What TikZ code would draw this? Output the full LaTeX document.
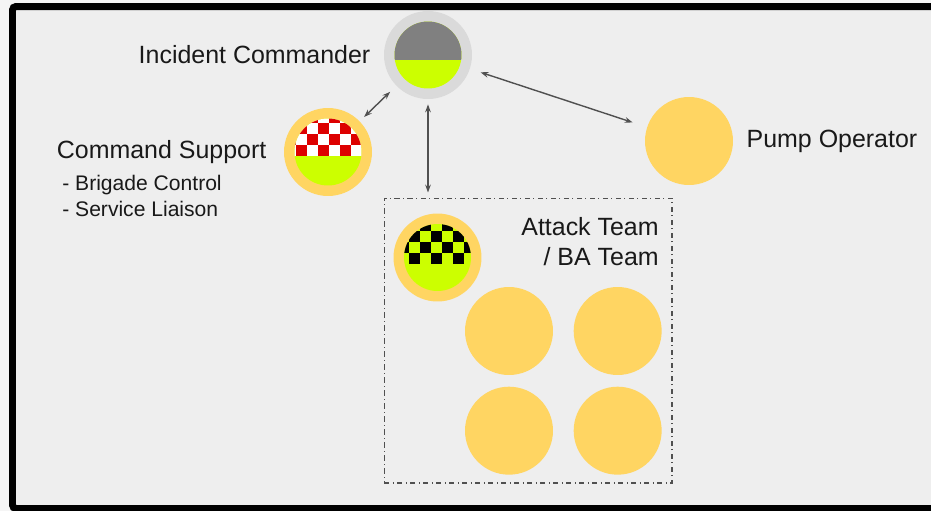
\documentclass[tikz,border=0pt]{standalone}
\usepackage{fontspec}
\setmainfont{Liberation Sans}
\usepackage{tikz}
\usetikzlibrary{positioning,arrows.meta}
\definecolor{bggray}{HTML}{EEEEEE}
\definecolor{ringgray}{HTML}{DADADA}
\definecolor{topgray}{HTML}{808080}
\definecolor{amber}{HTML}{FFD562}
\definecolor{lime}{HTML}{CCFF00}
\definecolor{chkred}{HTML}{DD0000}
\definecolor{linegray}{HTML}{505050}

\begin{document}
\begin{tikzpicture}[x=0.02cm,y=-0.02cm,
  role/.style={circle,fill=amber,minimum size=1.76cm,inner sep=0},
  lbl/.style={inner sep=0,text=black!90,font=\fontsize{14.2}{17}\selectfont},
  sublbl/.style={inner sep=0,align=left,text=black!90,font=\fontsize{12}{14.8}\selectfont},
  link/.style={{Stealth[length=4.5pt,width=3.2pt]}-{Stealth[length=4.5pt,width=3.2pt]},draw=linegray,line width=0.8pt}]
  \fill[black!4] (0,0) rectangle (931,511);
  \useasboundingbox (0,0) rectangle (931,511);
  \draw[fill=bggray,line width=0.14cm,rounded corners=2pt] (12.5,6.5) rectangle (960,508.5);

  \node[role,fill=ringgray] (ic) at (428,55) {};
  \node[role] (cs) at (328,152) {};
  \node[role] (po) at (689,141) {};
  \node[draw=linegray,dash dot,line width=0.6pt,minimum width=5.76cm,minimum height=5.7cm] (team) at (528,340.5) {};
  \node[role] (at) at (437.5,257.5) {};
  \node[role] (t1) at (509,331) {};
  \node[role,right=0.4cm of t1] (t2) {};
  \node[role,below=0.22cm of t1] (t3) {};
  \node[role,below=0.22cm of t2] (t4) {};

  \begin{scope}[shift={(ic)}]
    \fill[lime] (0,0) circle (0.67cm);
    \clip (0,0) circle (0.67cm);
    \fill[topgray] (-34,-34) rectangle (34,4.5);
  \end{scope}
  \begin{scope}[shift={(cs)}]
    \fill[lime] (0,0) circle (0.67cm);
    \clip (0,0) circle (0.67cm);
    \fill[white] (-34,-34) rectangle (34,4);
    \foreach \i in {-4,...,3}
      \foreach \j in {0,...,3}{
        \pgfmathtruncatemacro{\odd}{mod(\i+\j+10,2)}
        \ifnum\odd=1 \fill[chkred] ({0.5+11*\i},{4-11*\j}) rectangle ++(11,-11); \fi}
  \end{scope}
  \begin{scope}[shift={(at)}]
    \fill[lime] (0,0) circle (0.67cm);
    \clip (0,0) circle (0.67cm);
    \foreach \i in {-4,...,3}
      \foreach \j in {0,...,3}{
        \pgfmathtruncatemacro{\odd}{mod(\i+\j+10,2)}
        \ifnum\odd=1 \fill[black] ({4.8+11*\i},{6-11*\j}) rectangle ++(11,-11); \fi}
  \end{scope}

  \node[lbl,left=0.26cm of ic] (iclabel) {Incident Commander};
  \node[lbl,left=0.34cm of cs] (cslabel) {Command Support};
  \node[sublbl,anchor=north west] (cslist) at (62,175) {- Brigade Control\\- Service Liaison};
  \node[lbl,right=0.26cm of po] (polabel) {Pump Operator};
  \node[lbl,align=right,anchor=north east] (atlabel) at (659,217) {Attack Team\\/ BA Team};

  \draw[link,shorten <=0.17cm,shorten >=0.12cm] (ic) -- (cs);
  \draw[link,shorten <=0.1cm,shorten >=0.1cm] (ic.south) -- (ic.south |- team.north);
  \draw[link,shorten <=0.22cm,shorten >=0.3cm] (ic) -- (po);
\end{tikzpicture}
\end{document}
